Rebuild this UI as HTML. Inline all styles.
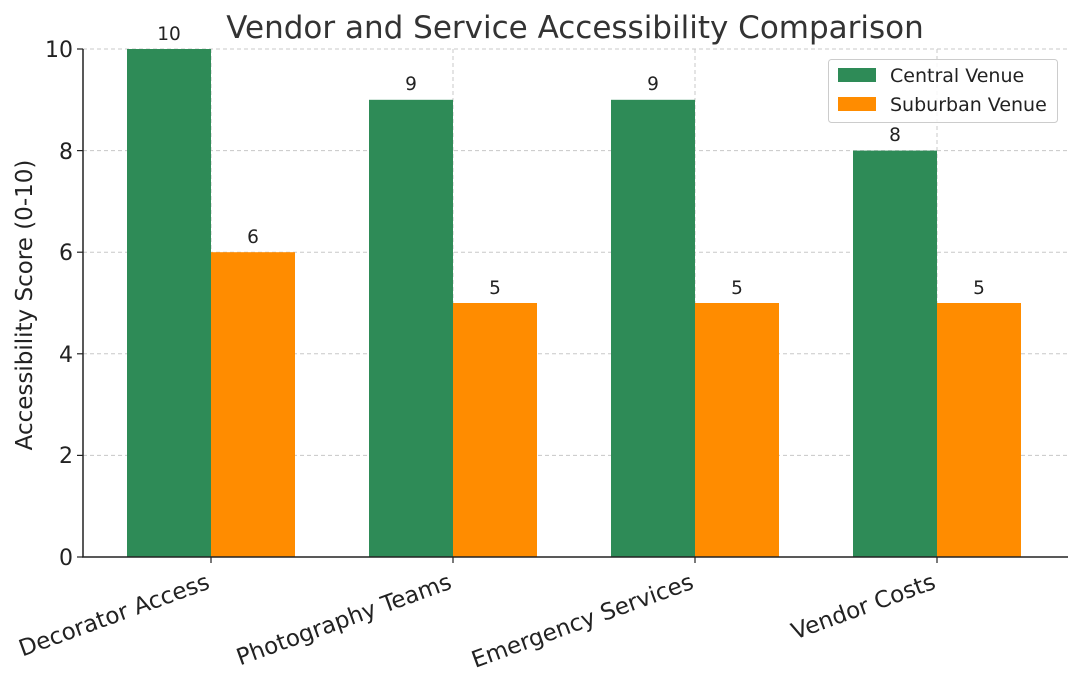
<!DOCTYPE html>
<html><head><meta charset="utf-8"><style>body{margin:0;background:#fff}svg{display:block}text{font-family:"DejaVu Sans","Liberation Sans",sans-serif;fill:#222}</style></head>
<body>
<svg width="1080" height="680" viewBox="0 0 1080 680">
<g stroke="#c8c8c8" stroke-dasharray="4,3" stroke-width="1">
<line x1="83" x2="1068" y1="455.4" y2="455.4"/><line x1="83" x2="1068" y1="353.8" y2="353.8"/>
<line x1="83" x2="1068" y1="252.2" y2="252.2"/><line x1="83" x2="1068" y1="150.6" y2="150.6"/>
<line x1="83" x2="1068" y1="49" y2="49"/>
<line x1="211" x2="211" y1="49" y2="557"/><line x1="453" x2="453" y1="49" y2="557"/>
<line x1="695" x2="695" y1="49" y2="557"/><line x1="937" x2="937" y1="49" y2="557"/>
</g>
<g fill="#2e8b57">
<rect x="127" y="49" width="84" height="508"/><rect x="369" y="99.8" width="84" height="457.2"/>
<rect x="611" y="99.8" width="84" height="457.2"/><rect x="853" y="150.6" width="84" height="406.4"/>
</g>
<g fill="#ff8c00">
<rect x="211" y="252.2" width="84" height="304.8"/><rect x="453" y="303" width="84" height="254"/>
<rect x="695" y="303" width="84" height="254"/><rect x="937" y="303" width="84" height="254"/>
</g>
<g font-size="18.5" text-anchor="middle">
<text x="169" y="40">10</text><text x="253" y="243">6</text>
<text x="411" y="90">9</text><text x="495" y="294">5</text>
<text x="653" y="90">9</text><text x="737" y="294">5</text>
<text x="895" y="141">8</text><text x="979" y="294">5</text>
</g>
<g stroke="#222" stroke-width="1.5" fill="none">
<line x1="83" x2="83" y1="49" y2="557"/><line x1="82" x2="1068" y1="557" y2="557"/>
</g>
<g stroke="#222" stroke-width="1.2">
<line x1="77" x2="83" y1="557" y2="557"/><line x1="77" x2="83" y1="455.4" y2="455.4"/><line x1="77" x2="83" y1="353.8" y2="353.8"/>
<line x1="77" x2="83" y1="252.2" y2="252.2"/><line x1="77" x2="83" y1="150.6" y2="150.6"/><line x1="77" x2="83" y1="49" y2="49"/>
<line x1="211" x2="211" y1="557" y2="563"/><line x1="453" x2="453" y1="557" y2="563"/><line x1="695" x2="695" y1="557" y2="563"/><line x1="937" x2="937" y1="557" y2="563"/>
</g>
<g font-size="22" text-anchor="end">
<text x="73" y="565">0</text><text x="73" y="463">2</text><text x="73" y="362">4</text>
<text x="73" y="260">6</text><text x="73" y="159">8</text><text x="73" y="57">10</text>
</g>
<g font-size="23" text-anchor="end">
<text transform="translate(211,588) rotate(-20)">Decorator Access</text>
<text transform="translate(453,588) rotate(-20)">Photography Teams</text>
<text transform="translate(695,588) rotate(-20)">Emergency Services</text>
<text transform="translate(937,588) rotate(-20)">Vendor Costs</text>
</g>
<text transform="translate(32,305) rotate(-90)" font-size="23" text-anchor="middle">Accessibility Score (0-10)</text>
<text x="575" y="38" font-size="31" text-anchor="middle" style="fill:#333">Vendor and Service Accessibility Comparison</text>
<rect x="828.5" y="59.5" width="229" height="63" fill="#fff" fill-opacity="0.85" stroke="#ccc" rx="3"/>
<rect x="838" y="68" width="38" height="14" fill="#2e8b57"/>
<rect x="838" y="97" width="38" height="14" fill="#ff8c00"/>
<text x="890" y="82" font-size="19">Central Venue</text>
<text x="890" y="111" font-size="19">Suburban Venue</text>
</svg>
</body></html>
